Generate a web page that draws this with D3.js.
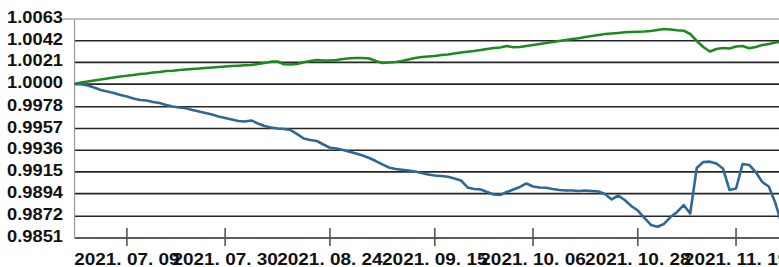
<!DOCTYPE html>
<html><head><meta charset="utf-8">
<script src="https://cdn.jsdelivr.net/npm/d3@7/dist/d3.min.js"></script>
<style>html,body{margin:0;padding:0;background:#fff;overflow:hidden}</style>
</head><body>
<svg id="c" width="779" height="267"></svg>
<script>
const greenValues = [1.0000,1.00015,1.00025,1.00035,1.00044,1.00054,1.00064,1.00074,1.00080,1.00088,
1.00098,1.00103,1.00112,1.00117,1.00127,1.00129,1.00136,1.00141,1.00146,1.00151,
1.00156,1.00161,1.00165,1.00170,1.00175,1.00178,1.00182,1.00185,1.00194,1.00204,
1.00217,1.00219,1.00192,1.00190,1.00194,1.00211,1.00223,1.00233,1.00228,1.00228,
1.00233,1.00243,1.00250,1.00253,1.00253,1.00248,1.00223,1.00204,1.00209,1.00214,
1.00223,1.00238,1.00253,1.00262,1.00267,1.00272,1.00282,1.00286,1.00296,1.00306,
1.00313,1.00320,1.00330,1.00340,1.00349,1.00354,1.00369,1.00356,1.00359,1.00369,
1.00378,1.00388,1.00398,1.00407,1.00417,1.00427,1.00436,1.00443,1.00456,1.00465,
1.00475,1.00485,1.00490,1.00495,1.00501,1.00504,1.00507,1.00509,1.00514,1.00524,
1.00533,1.00528,1.00521,1.00517,1.00485,1.00417,1.00359,1.00315,1.00340,1.00349,
1.00345,1.00364,1.00369,1.00347,1.00359,1.00378,1.00388,1.00403,1.00412];
const blueValues = [1.0000,0.99998,0.99986,0.99967,0.99943,0.99928,0.99914,0.99894,0.99880,0.99860,
0.99846,0.99841,0.99827,0.99817,0.99798,0.99783,0.99773,0.99766,0.99749,0.99735,
0.99720,0.99706,0.99686,0.99672,0.99657,0.99643,0.99638,0.99648,0.99618,0.99594,
0.99580,0.99570,0.99565,0.99555,0.99516,0.99473,0.99459,0.99449,0.99415,0.99384,
0.99376,0.99362,0.99345,0.99328,0.99309,0.99284,0.99255,0.99222,0.99192,0.99178,
0.99171,0.99163,0.99154,0.99139,0.99125,0.99115,0.99110,0.99103,0.99086,0.99067,
0.98999,0.98984,0.98979,0.98955,0.98931,0.98926,0.98955,0.98979,0.99004,0.99038,
0.99009,0.98999,0.98997,0.98984,0.98975,0.98970,0.98970,0.98965,0.98970,0.98965,
0.98960,0.98936,0.98883,0.98921,0.98878,0.98820,0.98776,0.98704,0.98636,0.98619,
0.98646,0.98713,0.98762,0.98829,0.98747,0.99188,0.99246,0.99249,0.99231,0.99183,
0.98975,0.98989,0.99226,0.99217,0.99149,0.99052,0.99009,0.98849,0.98636];
const categories = d3.range(greenValues.length);
const xTickIndex = [8,23,39,55,70,86,101];
const xTickLabels = ["2021. 07. 09","2021. 07. 30","2021. 08. 24","2021. 09. 15","2021. 10. 06","2021. 10. 28","2021. 11. 19"];
const yTickLabels = ["1.0063","1.0042","1.0021","1.0000","0.9978","0.9957","0.9936","0.9915","0.9894","0.9872","0.9851"];

const svg = d3.select("#c");
const x = d3.scaleLinear().domain([0, categories.length-1]).range([74.5, 781.9]);
const y = d3.scaleLinear().domain([0.9851, 1.0063]).range([238, 19]);
const font = "'Liberation Sans', Arial, sans-serif";

// gridlines
yTickLabels.forEach((t,i) => {
  const v = +t, yy = y(v);
  svg.append("line").attr("x1", i===0 ? 63 : 74.5).attr("x2", 779).attr("y1", yy).attr("y2", yy)
    .attr("stroke", i===0 ? "#aaa" : "#262626").attr("stroke-width", 1.6);
  svg.append("g").attr("transform", `translate(63,${yy+4}) scale(1.11,1)`)
    .append("text").attr("text-anchor","end").attr("font-family",font).attr("font-weight","bold")
    .attr("font-size","16.5px").attr("fill","#111").text(t);
});
// left axis
svg.append("line").attr("x1",74.5).attr("x2",74.5).attr("y1",y(1.0063)).attr("y2",y(0.9851))
  .attr("stroke","#999").attr("stroke-width",1.2);
// x ticks
xTickIndex.forEach((ix,i) => {
  const xx = x(ix);
  svg.append("line").attr("x1",xx).attr("x2",xx).attr("y1",228).attr("y2",246)
    .attr("stroke","#555").attr("stroke-width",1.6);
  svg.append("g").attr("transform", `translate(${xx},265) scale(1.15,1)`)
    .append("text").attr("text-anchor","middle").attr("font-family",font).attr("font-weight","bold")
    .attr("font-size","16.5px").attr("fill","#111").text(xTickLabels[i]);
});
const line = d3.line().x((d,i)=>x(categories[i])).y(d=>y(d));
svg.append("path").datum(greenValues).attr("d",line).attr("fill","none")
  .attr("stroke","#1e8a1e").attr("stroke-width",2.6).attr("stroke-linejoin","round");
svg.append("path").datum(blueValues).attr("d",line).attr("fill","none")
  .attr("stroke","#2f6896").attr("stroke-width",2.6).attr("stroke-linejoin","round");
</script>
</body></html>
